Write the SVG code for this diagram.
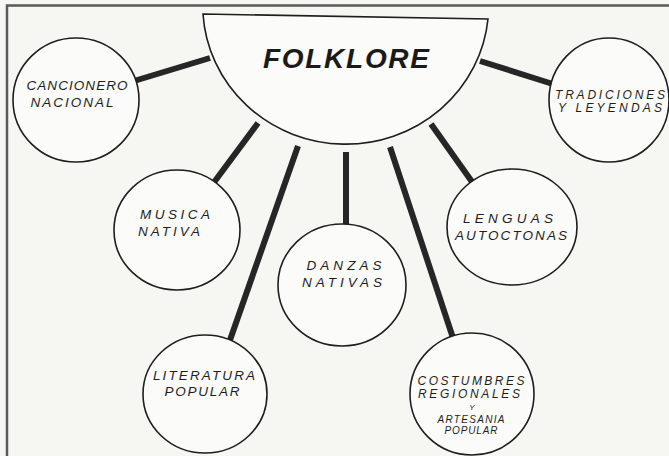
<svg xmlns="http://www.w3.org/2000/svg" width="669" height="456" viewBox="0 0 669 456">
  <style>
    .bg { fill: #f6f6f3; }
    .frame { stroke: #5a5a5a; stroke-width: 2.5; fill: none; }
    .conn { stroke: #262626; stroke-width: 6; stroke-linecap: butt; }
    .node { fill: #fbfbf9; stroke: #1e1e1e; stroke-width: 1.6; }
    .lbl { font-family: "Liberation Sans", Arial, sans-serif; font-style: italic; font-size: 13.5px; fill: #1e1e1e; text-anchor: middle; }
    .tight { font-size: 12px; }
    .sm { font-size: 10px; }
    .title { font-family: "Liberation Sans", Arial, sans-serif; font-style: italic; font-weight: bold; font-size: 28px; fill: #1a1a1a; text-anchor: middle; }
  </style>
  <rect class="bg" x="0" y="0" width="669" height="456"/>
  <path class="frame" d="M7,456 L7,5.5 L669,5.5"/>

  <g id="connectors">
    <line class="conn" x1="210" y1="58" x2="134" y2="81"/>
    <line class="conn" x1="480" y1="61" x2="556" y2="85"/>
    <line class="conn" x1="258" y1="123" x2="212" y2="185"/>
    <line class="conn" x1="298" y1="146" x2="230" y2="340"/>
    <line class="conn" x1="346" y1="152" x2="346" y2="228"/>
    <line class="conn" x1="390" y1="147" x2="453" y2="338"/>
    <line class="conn" x1="431" y1="124" x2="475" y2="186"/>
  </g>

  <g id="folklore">
    <path class="node" d="M203,14 L488,19 A143,139 0 0 1 203,14 Z"/>
    <text class="title" x="346" y="68" textLength="166" lengthAdjust="spacing">FOLKLORE</text>
  </g>

  <g id="cancionero">
    <ellipse class="node" cx="76" cy="100" rx="63" ry="62"/>
    <text class="lbl" x="77" y="90" textLength="101" lengthAdjust="spacing">CANCIONERO</text>
    <text class="lbl" x="72" y="107" textLength="83" lengthAdjust="spacing">NACIONAL</text>
  </g>

  <g id="tradiciones">
    <ellipse class="node" cx="609" cy="100" rx="60" ry="62"/>
    <text class="lbl tight" x="610" y="99" textLength="110" lengthAdjust="spacing">TRADICIONES</text>
    <text class="lbl tight" x="610" y="112" textLength="104" lengthAdjust="spacing">Y LEYENDAS</text>
  </g>

  <g id="musica">
    <ellipse class="node" cx="177" cy="230" rx="63" ry="60"/>
    <text class="lbl" x="175" y="219" textLength="70" lengthAdjust="spacing">MUSICA</text>
    <text class="lbl" x="169" y="236" textLength="62" lengthAdjust="spacing">NATIVA</text>
  </g>

  <g id="danzas">
    <ellipse class="node" cx="342" cy="285" rx="64" ry="61"/>
    <text class="lbl" x="344" y="270" textLength="75" lengthAdjust="spacing">DANZAS</text>
    <text class="lbl" x="342" y="287" textLength="80" lengthAdjust="spacing">NATIVAS</text>
  </g>

  <g id="lenguas">
    <ellipse class="node" cx="512" cy="227" rx="65" ry="58"/>
    <text class="lbl" x="508" y="223" textLength="90" lengthAdjust="spacing">LENGUAS</text>
    <text class="lbl" x="511" y="240" textLength="112" lengthAdjust="spacing">AUTOCTONAS</text>
  </g>

  <g id="literatura">
    <ellipse class="node" cx="205" cy="394" rx="62" ry="59"/>
    <text class="lbl" x="204" y="380" textLength="102" lengthAdjust="spacing">LITERATURA</text>
    <text class="lbl" x="202" y="396" textLength="75" lengthAdjust="spacing">POPULAR</text>
  </g>

  <g id="costumbres">
    <ellipse class="node" cx="472" cy="394" rx="62" ry="61"/>
    <text class="lbl tight" x="471" y="385" textLength="107" lengthAdjust="spacing">COSTUMBRES</text>
    <text class="lbl tight" x="469" y="398" textLength="102" lengthAdjust="spacing">REGIONALES</text>
    <text class="lbl sm" x="472" y="410" style="font-size:8px">Y</text>
    <text class="lbl sm" x="471" y="423" textLength="67" lengthAdjust="spacing">ARTESANIA</text>
    <text class="lbl sm" x="471" y="434" textLength="53" lengthAdjust="spacing">POPULAR</text>
  </g>
</svg>
